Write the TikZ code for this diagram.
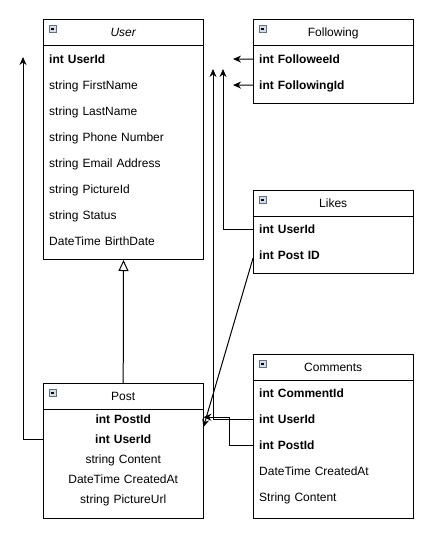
\documentclass[tikz,border=0pt]{standalone}
\usepackage{fontspec}
\setmainfont{Liberation Sans}
\usetikzlibrary{arrows.meta}
\definecolor{iconfill}{HTML}{D5DEE8}
\definecolor{iconline}{HTML}{5F7188}
\newcommand\hdricon[1]{%
  \draw[fill=iconfill, draw=iconline, line width=0.7pt] ([shift={(6pt,-6.5pt)}]#1.north west) rectangle ++(7,7);
  \draw[line width=1.2pt] ([shift={(7.8pt,-10pt)}]#1.north west) -- ++(3.4,0);}
\begin{document}
\begin{tikzpicture}[x=1pt,y=-1pt, font=\fontsize{12pt}{14pt}\selectfont,
  box/.style={draw, line width=1pt, inner sep=0pt, anchor=north west, minimum width=160pt},
  hdr/.style={anchor=north west, inner sep=0pt, minimum width=160pt, minimum height=26pt, text height=11pt, text depth=2.4pt},
  row/.style={anchor=north west, inner xsep=6pt, inner ysep=0pt, minimum width=160pt, minimum height=26pt, text width=148pt, align=left, text height=11pt, text depth=2.4pt},
  crow/.style={row, minimum height=20pt, align=center},
  sep/.style={line width=1pt},
  conn/.style={draw, line width=1pt, -{Stealth[length=8pt,width=7pt]}},
  inherit/.style={draw, line width=1pt, -{Triangle[open,length=11pt,width=10pt,fill=white]}}]
\useasboundingbox (0,0) rectangle (444,539);

% User
\node[box, minimum height=240pt] (user) at (43,19) {};
\node[hdr] (userH) at (43,19) {\itshape User};
\draw[sep] (userH.south west) -- (userH.south east);
\hdricon{user}
\node[row] (u1) at (43,46) {\bfseries int UserId};
\node[row] (u2) at (43,72) {string FirstName};
\node[row] (u3) at (43,98) {string LastName};
\node[row] (u4) at (43,124) {string Phone Number};
\node[row] (u5) at (43,150) {string Email Address};
\node[row] (u6) at (43,176) {string PictureId};
\node[row] (u7) at (43,202) {string Status};
\node[row] (u8) at (43,228) {DateTime BirthDate};

% Following
\node[box, minimum height=84pt] (fol) at (253,19) {};
\node[hdr] (folH) at (253,19) {Following};
\draw[sep] (folH.south west) -- (folH.south east);
\hdricon{fol}
\node[row] (f1) at (253,46) {\bfseries int FolloweeId};
\node[row] (f2) at (253,72) {\bfseries int FollowingId};

% Likes
\node[box, minimum height=83pt] (lik) at (253,190) {};
\node[hdr] (likH) at (253,190) {Likes};
\draw[sep] (likH.south west) -- (likH.south east);
\hdricon{lik}
\node[row] (l1) at (253,216) {\bfseries int UserId};
\node[row] (l2) at (253,242) {\bfseries int Post ID};

% Comments
\node[box, minimum height=164pt] (com) at (253,354) {};
\node[hdr] (comH) at (253,354) {Comments};
\draw[sep] (comH.south west) -- (comH.south east);
\hdricon{com}
\node[row] (c1) at (253,380) {\bfseries int CommentId};
\node[row] (c2) at (253,406) {\bfseries int UserId};
\node[row] (c3) at (253,432) {\bfseries int PostId};
\node[row] (c4) at (253,458) {DateTime CreatedAt};
\node[row] (c5) at (253,484) {String Content};

% Post
\node[box, minimum height=135pt] (post) at (43,383) {};
\node[hdr] (postH) at (43,383) {Post};
\draw[sep] (postH.south west) -- (postH.south east);
\hdricon{post}
\node[crow] (p1) at (43,409) {\bfseries int PostId};
\node[crow] (p2) at (43,429) {\bfseries int UserId};
\node[crow] (p3) at (43,449) {string Content};
\node[crow] (p4) at (43,469) {DateTime CreatedAt};
\node[crow] (p5) at (43,489) {string PictureUrl};

% free ends
\coordinate (tipPost) at (23,57);
\coordinate (tipF1) at (233,59);
\coordinate (tipF2) at (233,85);
\coordinate (tipLU) at (223,69);
\coordinate (tipCU) at (213,69);

% connectors
\draw[inherit] (postH.north) -- (user.south);
\draw[conn] (p2.west) -| (tipPost);
\draw[conn] (f1.west) -- (tipF1);
\draw[conn] (f2.west) -- (tipF2);
\draw[conn] (l1.west) -| (tipLU);
\draw[conn] (c2.west) -| (tipCU);
\draw[conn] (c3.west) -- ([xshift=-24pt]c3.west) |- ([yshift=2pt]p1.east);
\draw[conn] ([yshift=-3pt]l2.west) -- ([yshift=-8pt]p1.east);
\end{tikzpicture}
\end{document}
